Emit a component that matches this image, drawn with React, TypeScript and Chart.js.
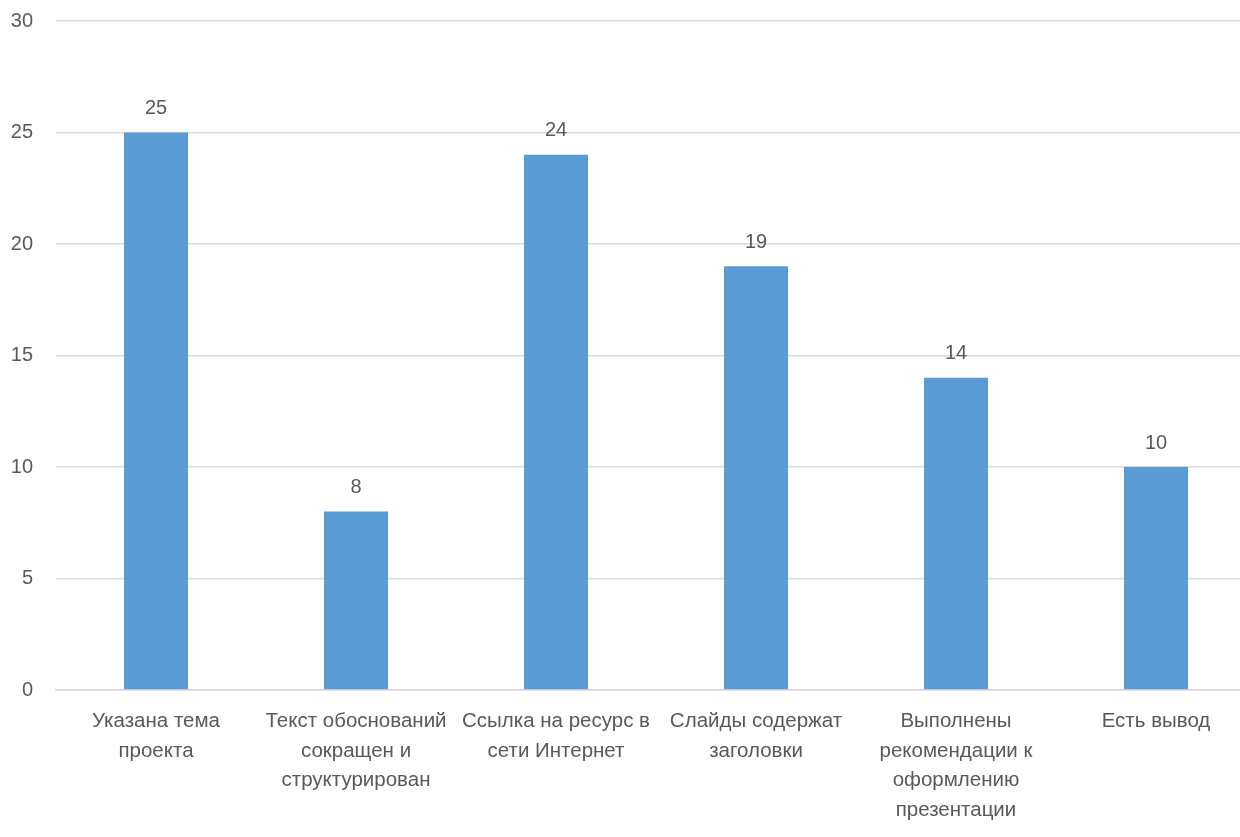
import React, { useEffect, useRef } from "react";
import { Chart, registerables } from "chart.js";

Chart.register(...registerables);

const categories: string[][] = [
  ["Указана тема", "проекта"],
  ["Текст обоснований", "сокращен и", "структурирован"],
  ["Ссылка на ресурс в", "сети Интернет"],
  ["Слайды содержат", "заголовки"],
  ["Выполнены", "рекомендации к", "оформлению", "презентации"],
  ["Есть вывод"],
];
const values: number[] = [25, 8, 24, 19, 14, 10];
const yTicks = { min: 0, max: 30, step: 5 };

const FONT = "'Liberation Sans', sans-serif";
const TEXT = "#595959";

const labelPlugin = {
  id: "valueLabels",
  afterDatasetsDraw(chart: any) {
    const ctx = chart.ctx;
    const meta = chart.getDatasetMeta(0);
    ctx.save();
    ctx.font = `20px ${FONT}`;
    ctx.fillStyle = TEXT;
    ctx.textAlign = "center";
    ctx.textBaseline = "middle";
    meta.data.forEach((bar: any, i: number) => {
      ctx.fillText(String(values[i]), bar.x, bar.y - 24);
    });
    ctx.restore();
  },
};

export default function App() {
  const ref = useRef<HTMLCanvasElement>(null);
  useEffect(() => {
    document.body.style.margin = "0";
    const chart = new Chart(ref.current!, {
      type: "bar",
      data: {
        labels: categories,
        datasets: [
          {
            data: values,
            backgroundColor: "#5B9BD5",
            barPercentage: 0.32,
            categoryPercentage: 1,
          },
        ],
      },
      options: {
        animation: false,
        responsive: false,
        maintainAspectRatio: false,
        layout: { padding: { top: 8, right: 0, left: 0, bottom: 0 } },
        plugins: { legend: { display: false }, tooltip: { enabled: false } },
        scales: {
          x: {
            grid: { display: false, drawTicks: false },
            border: { color: "#D9D9D9", width: 1.5 },
            ticks: {
              color: TEXT,
              font: { family: FONT, size: 20.5, lineHeight: 1.44 },
              padding: 17,
              maxRotation: 0,
              autoSkip: false,
            },
            afterFit(scale: any) {
              scale.height = 147;
            },
          },
          y: {
            min: yTicks.min,
            max: yTicks.max,
            ticks: {
              stepSize: yTicks.step,
              color: TEXT,
              font: { family: FONT, size: 20 },
              padding: 23,
            },
            grid: { color: "#D9D9D9", lineWidth: 1.5, drawTicks: false },
            border: { display: false },
            afterFit(scale: any) {
              scale.width = 56;
            },
          },
        },
      },
      plugins: [labelPlugin],
    });
    return () => chart.destroy();
  }, []);
  return (
    <div style={{ width: 1240, height: 837, overflow: "hidden", position: "relative", background: "#fff" }}>
      <canvas ref={ref} width={1256} height={851} style={{ position: "absolute", left: 0, top: -14 }} />
    </div>
  );
}
